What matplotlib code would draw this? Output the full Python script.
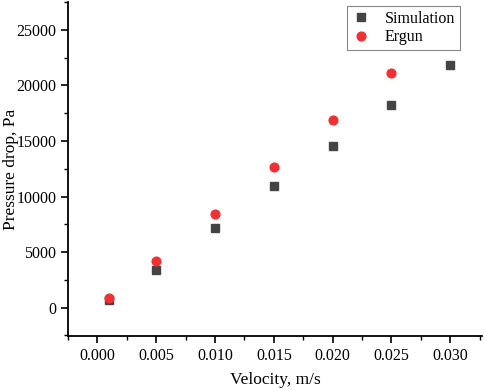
import matplotlib
matplotlib.use("Agg")
import matplotlib.pyplot as plt
from matplotlib.ticker import MultipleLocator

velocity = [0.001, 0.005, 0.010, 0.015, 0.020, 0.025, 0.030]
simulation = [680, 3420, 7200, 10940, 14580, 18200, 21850]
ergun_v = [0.001, 0.005, 0.010, 0.015, 0.020, 0.025]
ergun = [840, 4190, 8420, 12650, 16870, 21100]

plt.rcParams['font.family'] = ['Liberation Serif', 'DejaVu Serif']

fig = plt.figure(figsize=(4.84, 3.90), dpi=100)
ax = fig.add_axes([68/484, 1 - 336/390, (482-68)/484, (336-2)/390])

ax.plot(velocity, simulation, linestyle='none', marker='s', markersize=5.3,
        color='#444444', label='Simulation')
ax.plot(ergun_v, ergun, linestyle='none', marker='o', markersize=6.3,
        color='#f03035', label='Ergun')

ax.set_xlim(-0.0025, 0.0327)
ax.set_ylim(-2550, 27500)
ax.xaxis.set_major_locator(MultipleLocator(0.005))
ax.xaxis.set_minor_locator(MultipleLocator(0.0025))
ax.yaxis.set_major_locator(MultipleLocator(5000))
ax.yaxis.set_minor_locator(MultipleLocator(2500))
ax.xaxis.set_major_formatter(matplotlib.ticker.FormatStrFormatter('%.3f'))

for s in ['top', 'right']:
    ax.spines[s].set_visible(False)
for s in ['left', 'bottom']:
    ax.spines[s].set_linewidth(1.3)
ax.tick_params(which='major', direction='out', length=5, width=1.2, labelsize=11.5)
ax.tick_params(which='minor', direction='out', length=3, width=1.0)

ax.set_xlabel('Velocity, m/s', fontsize=12.5)
ax.xaxis.set_label_coords(0.5, -0.108)
ax.set_ylabel('Pressure drop, Pa', fontsize=12.5)
ax.yaxis.set_label_coords(-0.118, 0.5)

leg = ax.legend(loc='upper right', bbox_to_anchor=(392/414, 1 - 4/334), fontsize=11.5,
                fancybox=False, edgecolor='#888888', framealpha=1, borderaxespad=0,
                handletextpad=0.9, borderpad=0.3, labelspacing=0.15, handlelength=1.2)
leg.get_frame().set_linewidth(0.8)

fig.savefig('out.png', dpi=100)
